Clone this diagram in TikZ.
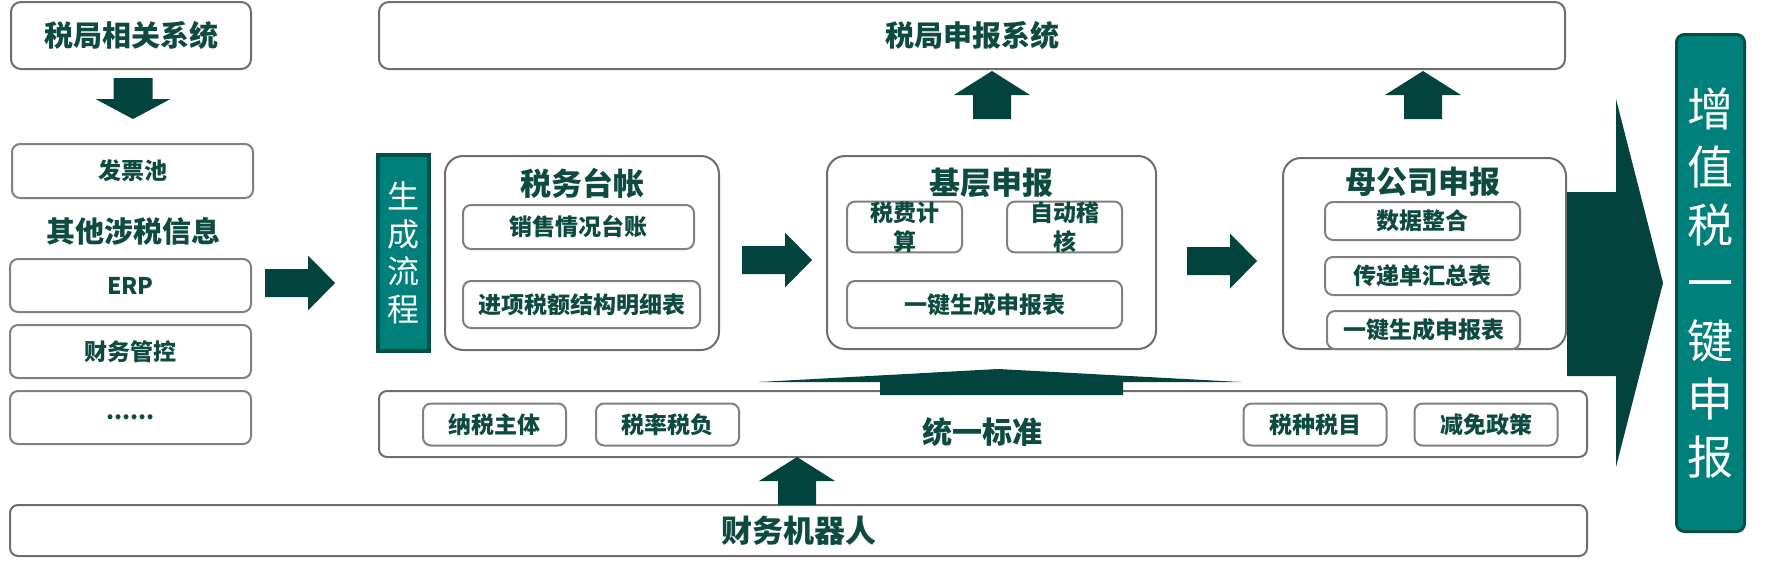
\documentclass[tikz,border=0pt]{standalone}
\usepackage{fontspec}
\setmainfont{Noto Sans CJK SC}
\usepackage{tikz}
\definecolor{txtgreen}{RGB}{13,74,64}
\definecolor{arrowgreen}{RGB}{2,67,61}
\definecolor{tealfill}{RGB}{0,128,122}
\definecolor{tealedge}{RGB}{0,80,72}
\definecolor{boxgray}{RGB}{112,108,104}
\definecolor{itemgray}{RGB}{128,128,128}

\begin{document}
\begin{tikzpicture}[x=1pt,y=-1pt,
  panel/.style={draw=boxgray, line width=2pt, rounded corners=10pt, inner sep=0pt, text=txtgreen, font=\bfseries\fontsize{29}{34}\selectfont},
  item/.style={draw=itemgray, line width=2pt, rounded corners=8pt, inner sep=0pt, text=txtgreen, font=\bfseries\fontsize{23}{29}\selectfont},
  heading/.style={inner sep=0pt, text=txtgreen, font=\bfseries\fontsize{31}{36}\selectfont},
  flowbox/.style={fill=tealfill, draw=tealedge, text=white, inner sep=0pt, align=center},
  fat/.style={fill=arrowgreen}]
\useasboundingbox (0,0) rectangle (1766,570);

% left column
\node[panel, minimum width=240pt, minimum height=67pt] (bureau) at (131,35.5) {税局相关系统};
\node[item, minimum width=241pt, minimum height=54pt] (pool) at (132.5,171) {发票池};
\node[heading, font=\bfseries\fontsize{29}{34}\selectfont] (other) at (133,231) {其他涉税信息};
\foreach \t/\n/\y in {ERP/erp/285.5,财务管控/control/351.5}
  \node[item, minimum width=241pt, minimum height=53pt] (\n) at (130.5,\y) {\t};
\node[item, minimum width=241pt, minimum height=53pt] (etc) at (130.5,417.5) {......};

% top
\node[panel, minimum width=1186pt, minimum height=67pt] (declsys) at (972,35.5) {税局申报系统};

% flow
\node[flowbox, line width=4pt, minimum width=51pt, minimum height=196pt, font=\fontsize{32}{37.5}\selectfont] (flow) at (403.5,253) {生\\成\\流\\程};

\node[panel, minimum width=274pt, minimum height=194pt, rounded corners=18pt] (ledger) at (582,253) {};
\node[heading] (ledgerT) at (582,183) {税务台帐};
\node[item, minimum width=231pt, minimum height=44pt] (sales) at (578.5,227) {销售情况台账};
\node[item, minimum width=237pt, minimum height=47pt] (input) at (581.5,304.5) {进项税额结构明细表};

\node[panel, minimum width=329pt, minimum height=193pt, rounded corners=18pt] (base) at (991.5,252.5) {};
\node[heading] (baseT) at (991,183) {基层申报};
\node[item, minimum width=115pt, minimum height=44pt, align=center] (calc) at (904.5,227) {税费计\\算};
\node[item, minimum width=115pt, minimum height=44pt, align=center] (audit) at (1064.5,227) {自动稽\\核};
\node[item, minimum width=275pt, minimum height=47pt] (onekey) at (984.5,304.5) {一键生成申报表};

\node[panel, minimum width=283pt, minimum height=191pt, rounded corners=18pt] (parent) at (1424.5,253.5) {};
\node[heading] (parentT) at (1423,182) {母公司申报};
\node[item, minimum width=195pt, minimum height=38pt] (merge) at (1422.5,221) {数据整合};
\node[item, minimum width=195pt, minimum height=38pt] (summary) at (1422.5,276) {传递单汇总表};
\node[item, minimum width=193pt, minimum height=38pt] (onekeyP) at (1423.5,330) {一键生成申报表};

% standard and robot
\node[panel, minimum width=1208pt, minimum height=66pt, rounded corners=8pt] (std) at (983,424) {};
\node[heading, font=\bfseries\fontsize{30}{34}\selectfont] (stdT) at (982,432) {统一标准};
\foreach \t/\n/\x in {纳税主体/subject/494.5,税率税负/rate/667.5,税种税目/kind/1315,减免政策/relief/1486}
  \node[item, minimum width=143pt, minimum height=42pt] (\n) at (\x,424.5) {\t};
\node[panel, minimum width=1577pt, minimum height=51pt, rounded corners=8pt, font=\bfseries\fontsize{31}{36}\selectfont] (robot) at (798.5,530.5) {财务机器人};

\node[flowbox, line width=3pt, rounded corners=8pt, minimum width=68pt, minimum height=497pt, font=\fontsize{46}{58}\selectfont] (vat) at (1710.5,283) {增\\值\\税\\一\\键\\申\\报};

% arrows
\fill[fat] (133,119) -- ++(37.5,-20) -- ++(-18,0) -- ++(0,-21) -- ++(-39,0) -- ++(0,21) -- ++(-18,0) -- cycle;
\foreach \x/\y in {265/283,742/260,1187/261}
  \fill[fat] (\x,\y-14) -- ++(43,0) -- ++(0,-13.5) -- ++(27,27.5) -- ++(-27,27.5) -- ++(0,-13.5) -- ++(-43,0) -- cycle;
\foreach \x/\y in {992/71,1423/71,797/457}
  \fill[fat] (\x,\y) -- ++(38,24) -- ++(-19,0) -- ++(0,24) -- ++(-38,0) -- ++(0,-24) -- ++(-19,0) -- cycle;
\fill[fat] (998,369) -- (1241,382) -- (1123,382) -- (1123,395) -- (880,395) -- (880,382) -- (759,382) -- cycle;
\fill[fat] (parent.east |- 0,192) -- (1616,192) -- (1616,99) -- (1663,283) -- (1616,467) -- (1616,376) -- (parent.east |- 0,376) -- cycle;
\end{tikzpicture}
\end{document}
